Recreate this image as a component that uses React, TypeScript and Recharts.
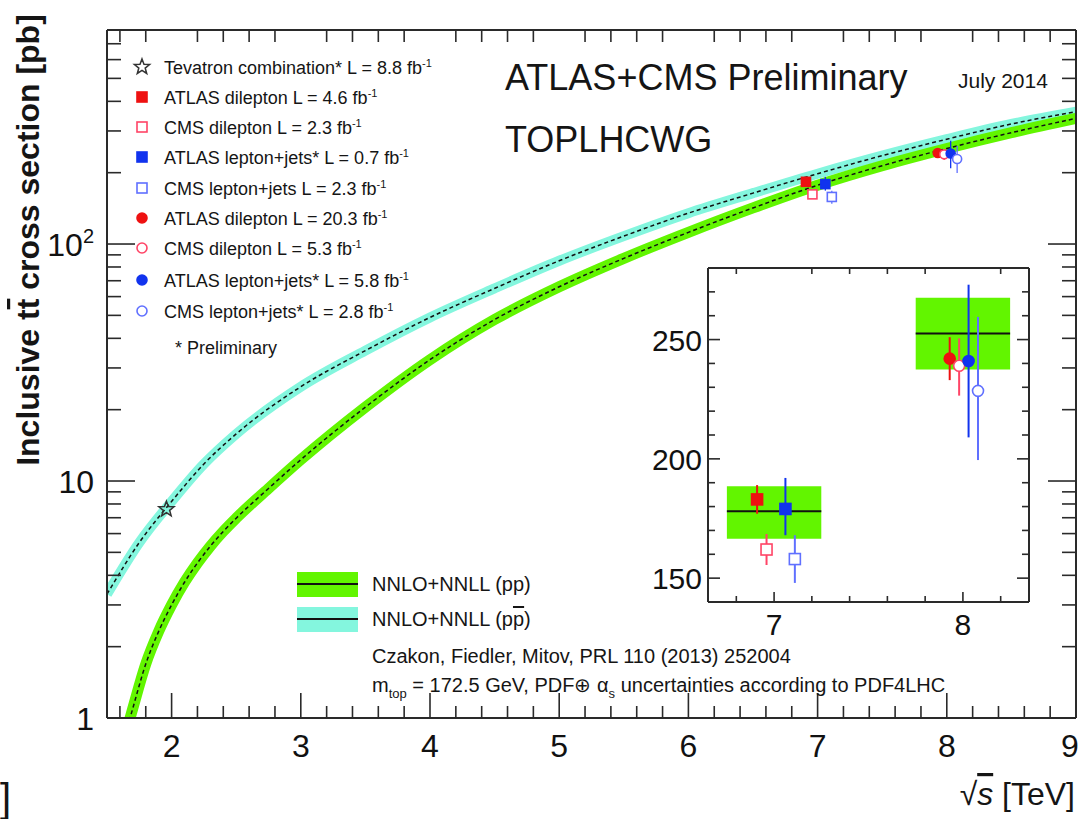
import React from "react";
import {
  ComposedChart,
  Line,
  Scatter,
  ErrorBar,
  XAxis,
  YAxis,
  ReferenceArea,
  ReferenceLine,
} from "recharts";

// NNLO+NNLL prediction, pp (LHC)
const ppEnergy = [1.6, 1.7, 1.8, 1.9, 2.0, 2.1, 2.2, 2.3, 2.4, 2.5, 2.75, 3.0, 3.5, 4.0, 4.5, 5.0, 5.5, 6.0, 6.5, 7.0, 7.5, 8.0, 8.5, 9.0];
const ppSigma = [0.7, 1.1, 1.69, 2.32, 3.0, 3.74, 4.51, 5.31, 6.13, 6.97, 9.3, 12.3, 20.5, 32.5, 48, 66, 87, 112, 142, 177, 214, 253, 295, 339];

// NNLO+NNLL prediction, ppbar (Tevatron)
const ppbarEnergy = [1.5, 1.75, 2.0, 2.25, 2.5, 3.0, 3.5, 4.0, 4.5, 5.0, 5.5, 6.0, 6.5, 7.0, 7.5, 8.0, 8.5, 9.0];
const ppbarSigma = [3.33, 5.5, 8.2, 11.8, 15.8, 25, 35.5, 49, 65, 85, 108, 135, 164, 198, 236, 277, 321, 362];

// Tevatron combination
const tevEnergy = [1.96];
const tevSigma = [7.6];

// LHC measurements, order: ATLAS dilepton, CMS dilepton, ATLAS l+jets, CMS l+jets
const lhc7Energy = [6.91, 6.96, 7.06, 7.11];
const lhc7Sigma = [183, 162, 179, 158];
const lhc7ErrDown = [6, 6.5, 11, 10];
const lhc7ErrUp = [6, 6.5, 13, 10];

const lhc8Energy = [7.93, 7.98, 8.03, 8.08];
const lhc8Sigma = [242, 239, 241, 228.5];
const lhc8ErrDown = [9, 12.5, 32, 29];
const lhc8ErrUp = [9, 11.5, 32, 31];

// theory boxes drawn in the zoom
const boxEnergy = [7, 8];
const boxCentral = [178, 252.5];
const boxLow = [166.5, 237.5];
const boxHigh = [188.5, 267.5];

// ticks
const xMajorTicks = [2, 3, 4, 5, 6, 7, 8, 9];
const xMinorTicks = [1.6, 1.8, 2.2, 2.4, 2.6, 2.8, 3.2, 3.4, 3.6, 3.8, 4.2, 4.4, 4.6, 4.8, 5.2, 5.4, 5.6, 5.8, 6.2, 6.4, 6.6, 6.8, 7.2, 7.4, 7.6, 7.8, 8.2, 8.4, 8.6, 8.8];
const yMajorTicks = [1, 10, 100];
const yMinorTicks = [2, 3, 4, 5, 6, 7, 8, 9, 20, 30, 40, 50, 60, 70, 80, 90, 200, 300, 400, 500, 600, 700];
const insetXMajor = [7, 8];
const insetXMinor = [6.8, 7.2, 7.4, 7.6, 7.8, 8.2];
const insetYMajor = [150, 200, 250];
const insetYMinor = [160, 170, 180, 190, 210, 220, 230, 240, 260, 270];

const legendLabels = [
  "Tevatron combination* L = 8.8 fb",
  "ATLAS dilepton L = 4.6 fb",
  "CMS dilepton L = 2.3 fb",
  "ATLAS lepton+jets* L = 0.7 fb",
  "CMS lepton+jets L = 2.3 fb",
  "ATLAS dilepton L = 20.3 fb",
  "CMS dilepton L = 5.3 fb",
  "ATLAS lepton+jets* L = 5.8 fb",
  "CMS lepton+jets* L = 2.8 fb",
];

const FONT = "'Liberation Sans', Arial, Helvetica, sans-serif";
const AXIS = "#2a2a2a";
const GREEN = "#62f500";
const CYAN = "#84f6de";
const expStyle = [
  { color: "#ee1111", filled: true },
  { color: "#ff4466", filled: false },
  { color: "#1133ee", filled: true },
  { color: "#6070ff", filled: false },
];

// plot frames (page pixels), fixed by the chart margins below
const MAIN = { left: 107, right: 1076, top: 30, bottom: 718, x: [1.5, 9], y: [1, 800] };
const INSET = { left: 708, right: 1029, top: 268, bottom: 602, x: [6.65, 8.35], y: [140, 280] };

const curve = (xs: number[], ys: number[]) => xs.map((s, i) => ({ s, sigma: ys[i] }));
const point = (s: number, sigma: number, lo: number, hi: number) => [{ s, sigma, err: [lo, hi] }];

const tickLine = { stroke: AXIS, strokeWidth: 1.6 };
const frame = { stroke: AXIS, strokeWidth: 2 };
const noLabel = () => <g />;

// mirrored axes put the tick marks inside the frame; labels are moved back outside here
const bottomLabel = (font: number, len: number, gap: number, last?: number) => (props: any) => {
  const { x, y, payload } = props;
  const shift = last !== undefined && Math.abs(payload.value - last) < 1e-9 ? -6 : 0;
  return (
    <text x={x + shift} y={y + len + gap} textAnchor="middle" fontSize={font} fill="#111">
      {payload.value}
    </text>
  );
};

const leftLabel = (font: number, len: number, gap: number, fmt?: (v: number) => React.ReactNode) => (props: any) => {
  const { x, y, payload } = props;
  return (
    <text x={x - len - gap} y={y + font * 0.37} textAnchor="end" fontSize={font} fill="#111">
      {fmt ? fmt(payload.value) : payload.value}
    </text>
  );
};

const logLabel = (v: number) =>
  v === 100 ? (
    <>
      10
      <tspan dy={-13} fontSize={20}>
        2
      </tspan>
    </>
  ) : (
    String(v)
  );

const marker = (kind: "square" | "circle", color: string, filled: boolean, size: number) => (p: any) => {
  const { cx, cy } = p;
  if (cx == null || cy == null) return <g />;
  const h = size / 2;
  const fill = filled ? color : "#fff";
  return kind === "square" ? (
    <rect x={cx - h} y={cy - h} width={size} height={size} fill={fill} stroke={color} strokeWidth={1.6} />
  ) : (
    <circle cx={cx} cy={cy} r={h} fill={fill} stroke={color} strokeWidth={1.6} />
  );
};

const starPoints = (cx: number, cy: number, R: number) => {
  const pts: string[] = [];
  for (let k = 0; k < 10; k++) {
    const r = k % 2 === 0 ? R : R * 0.42;
    const a = -Math.PI / 2 + (k * Math.PI) / 5;
    pts.push(`${cx + r * Math.cos(a)},${cy + r * Math.sin(a)}`);
  }
  return pts.join(" ");
};

const StarShape = (p: any) =>
  p.cx == null ? <g /> : <polygon points={starPoints(p.cx, p.cy, 8)} fill="none" stroke="#333" strokeWidth={1.5} />;

function measurementSeries(size: number, errWidth: number) {
  const out: React.ReactNode[] = [];
  lhc7Energy.forEach((s, i) => {
    const st = expStyle[i];
    out.push(
      <Scatter
        key={`m7-${i}`}
        data={point(s, lhc7Sigma[i], lhc7ErrDown[i], lhc7ErrUp[i])}
        dataKey="sigma"
        shape={marker("square", st.color, st.filled, size)}
        isAnimationActive={false}
      >
        <ErrorBar dataKey="err" direction="y" width={0} stroke={st.color} strokeWidth={errWidth} />
      </Scatter>
    );
  });
  lhc8Energy.forEach((s, i) => {
    const st = expStyle[i];
    out.push(
      <Scatter
        key={`m8-${i}`}
        data={point(s, lhc8Sigma[i], lhc8ErrDown[i], lhc8ErrUp[i])}
        dataKey="sigma"
        shape={marker("circle", st.color, st.filled, size)}
        isAnimationActive={false}
      >
        <ErrorBar dataKey="err" direction="y" width={0} stroke={st.color} strokeWidth={errWidth} />
      </Scatter>
    );
  });
  return out;
}

// frame on four sides, long ticks from mirrored axes
function frameAxes(o: {
  xDomain: number[];
  yDomain: number[];
  logY: boolean;
  xMajor: number[];
  yMajor: number[];
  xLen: number;
  yLen: number;
  xLabel: (p: any) => React.ReactElement;
  yLabel: (p: any) => React.ReactElement;
}) {
  const scale = o.logY ? "log" : "auto";
  const common = { type: "number" as const, allowDataOverflow: true, interval: 0 as const, tickLine, mirror: true, tickMargin: 0 };
  return [
    <XAxis key="b" {...common} dataKey="s" domain={o.xDomain} ticks={o.xMajor} height={1} tickSize={o.xLen} tick={o.xLabel} axisLine={frame} />,
    <XAxis key="t" xAxisId="top" orientation="top" {...common} domain={o.xDomain} ticks={o.xMajor} height={1} tickSize={o.xLen} tick={noLabel} axisLine={frame} />,
    <YAxis key="l" {...common} scale={scale} domain={o.yDomain} ticks={o.yMajor} width={1} tickSize={o.yLen} tick={o.yLabel} axisLine={frame} />,
    <YAxis key="r" yAxisId="right" orientation="right" {...common} scale={scale} domain={o.yDomain} ticks={o.yMajor} width={1} tickSize={o.yLen} tick={noLabel} axisLine={frame} />,
  ];
}

function MainChart() {
  return (
    <ComposedChart width={1083} height={819} margin={{ top: MAIN.top, right: 1083 - MAIN.right, bottom: 819 - MAIN.bottom, left: MAIN.left }}>
      {frameAxes({
        xDomain: MAIN.x,
        yDomain: MAIN.y,
        logY: true,
        xMajor: xMajorTicks,
        yMajor: yMajorTicks,
        xLen: 25,
        yLen: 28,
        xLabel: bottomLabel(32, 25, 39, 9),
        yLabel: leftLabel(32, 28, 13, logLabel),
      })}
      <Line data={curve(ppbarEnergy, ppbarSigma)} dataKey="sigma" type="monotone" stroke={CYAN} strokeWidth={10} dot={false} activeDot={false} isAnimationActive={false} />
      <Line data={curve(ppEnergy, ppSigma)} dataKey="sigma" type="monotone" stroke={GREEN} strokeWidth={11} dot={false} activeDot={false} isAnimationActive={false} />
      <Line data={curve(ppbarEnergy, ppbarSigma)} dataKey="sigma" type="monotone" stroke="#111" strokeWidth={1.5} strokeDasharray="4 3" dot={false} activeDot={false} isAnimationActive={false} />
      <Line data={curve(ppEnergy, ppSigma)} dataKey="sigma" type="monotone" stroke="#111" strokeWidth={1.5} strokeDasharray="4 3" dot={false} activeDot={false} isAnimationActive={false} />
      <Scatter data={curve(tevEnergy, tevSigma)} dataKey="sigma" shape={StarShape} isAnimationActive={false} />
      {measurementSeries(9, 1.3)}
    </ComposedChart>
  );
}

function InsetChart() {
  return (
    <ComposedChart width={400} height={392} margin={{ top: INSET.top - 258, right: 1040 - INSET.right, bottom: 650 - INSET.bottom, left: INSET.left - 640 }}>
      {frameAxes({
        xDomain: INSET.x,
        yDomain: INSET.y,
        logY: false,
        xMajor: insetXMajor,
        yMajor: insetYMajor,
        xLen: 10,
        yLen: 12,
        xLabel: bottomLabel(30, 10, 33),
        yLabel: leftLabel(30, 12, 6),
      })}
      {boxEnergy.map((e, i) => (
        <ReferenceArea key={`box-${i}`} x1={e - 0.25} x2={e + 0.25} y1={boxLow[i]} y2={boxHigh[i]} fill={GREEN} fillOpacity={1} stroke="none" />
      ))}
      {boxEnergy.map((e, i) => (
        <ReferenceLine
          key={`cen-${i}`}
          segment={[
            { x: e - 0.25, y: boxCentral[i] },
            { x: e + 0.25, y: boxCentral[i] },
          ]}
          stroke="#111"
          strokeWidth={2}
        />
      ))}
      {measurementSeries(11, 2)}
    </ComposedChart>
  );
}

// short (minor) tick marks on all four sides of a frame
function MinorTicks({ f, log, xs, ys, xLen, yLen }: { f: typeof MAIN; log: boolean; xs: number[]; ys: number[]; xLen: number; yLen: number }) {
  const px = (v: number) => f.left + ((v - f.x[0]) / (f.x[1] - f.x[0])) * (f.right - f.left);
  const py = (v: number) =>
    log
      ? f.bottom - ((Math.log10(v) - Math.log10(f.y[0])) / (Math.log10(f.y[1]) - Math.log10(f.y[0]))) * (f.bottom - f.top)
      : f.bottom - ((v - f.y[0]) / (f.y[1] - f.y[0])) * (f.bottom - f.top);
  return (
    <g stroke={AXIS} strokeWidth={1.6}>
      {xs.map((v) => (
        <g key={`x${v}`}>
          <line x1={px(v)} x2={px(v)} y1={f.bottom} y2={f.bottom - xLen} />
          <line x1={px(v)} x2={px(v)} y1={f.top} y2={f.top + xLen} />
        </g>
      ))}
      {ys.map((v) => (
        <g key={`y${v}`}>
          <line x1={f.left} x2={f.left + yLen} y1={py(v)} y2={py(v)} />
          <line x1={f.right} x2={f.right - yLen} y1={py(v)} y2={py(v)} />
        </g>
      ))}
    </g>
  );
}

function Annotations() {
  const rowY = [67, 97, 127, 157, 188, 218, 248, 280, 311];
  const legendMarker = (i: number, y: number) => {
    if (i === 0) return <polygon points={starPoints(142, y, 8)} fill="none" stroke="#333" strokeWidth={1.5} />;
    const st = expStyle[(i - 1) % 4];
    const fill = st.filled ? st.color : "#fff";
    return i <= 4 ? (
      <rect x={142 - 5} y={y - 5} width={10} height={10} fill={fill} stroke={st.color} strokeWidth={1.6} />
    ) : (
      <circle cx={142} cy={y} r={5} fill={fill} stroke={st.color} strokeWidth={1.6} />
    );
  };
  return (
    <svg width={1083} height={819} style={{ position: "absolute", left: 0, top: 0, pointerEvents: "none" }}>
      <MinorTicks f={MAIN} log xs={xMinorTicks} ys={yMinorTicks} xLen={12} yLen={14} />
      <MinorTicks f={INSET} log={false} xs={insetXMinor} ys={insetYMinor} xLen={6} yLen={7} />
      <g fontFamily={FONT} fill="#151515">
        <text transform="translate(39,240) rotate(-90)" textAnchor="middle" fontSize={32} fontWeight="bold">
          Inclusive t<tspan style={{ textDecoration: "overline" }}>t</tspan> cross section [pb]
        </text>
        <text x={1075} y={805} textAnchor="end" fontSize={32}>
          √<tspan fontStyle="italic" style={{ textDecoration: "overline" }}>s</tspan> [TeV]
        </text>
        <text x={0} y={812} fontSize={40}>]</text>

        <text x={505} y={90} fontSize={36}>ATLAS+CMS Preliminary</text>
        <text x={505} y={152} fontSize={36}>TOPLHCWG</text>
        <text x={958} y={88} fontSize={21}>July 2014</text>

        {legendLabels.map((lab, i) => (
          <g key={lab}>
            {legendMarker(i, rowY[i])}
            <text x={164} y={rowY[i] + 6.5} fontSize={18}>
              {lab}
              <tspan dy={-7} fontSize={11}>
                -1
              </tspan>
            </text>
          </g>
        ))}
        <text x={175} y={354} fontSize={18}>* Preliminary</text>

        <rect x={297} y={572} width={61} height={25} fill={GREEN} />
        <line x1={297} x2={358} y1={584} y2={584} stroke="#111" strokeWidth={2} />
        <rect x={297} y={607} width={61} height={25} fill={CYAN} />
        <line x1={297} x2={358} y1={619} y2={619} stroke="#111" strokeWidth={2} />
        <text x={372} y={591} fontSize={20}>NNLO+NNLL (pp)</text>
        <text x={372} y={626} fontSize={20}>
          NNLO+NNLL (p<tspan style={{ textDecoration: "overline" }}>p</tspan>)
        </text>
        <text x={372} y={663} fontSize={20}>Czakon, Fiedler, Mitov, PRL 110 (2013) 252004</text>
        <text x={372} y={692} fontSize={20}>
          m<tspan dy={6} fontSize={13}>top</tspan>
          <tspan dy={-6}> = 172.5 GeV, PDF⊕ α</tspan>
          <tspan dy={6} fontSize={13}>s</tspan>
          <tspan dy={-6}> uncertainties according to PDF4LHC</tspan>
        </text>
      </g>
    </svg>
  );
}

export default function App() {
  return (
    <div style={{ position: "absolute", left: 0, top: 0, width: 1083, height: 819, background: "#fff", fontFamily: FONT }}>
      <div style={{ position: "absolute", left: 0, top: 0 }}>
        <MainChart />
      </div>
      <div style={{ position: "absolute", left: 640, top: 258 }}>
        <InsetChart />
      </div>
      <Annotations />
    </div>
  );
}
